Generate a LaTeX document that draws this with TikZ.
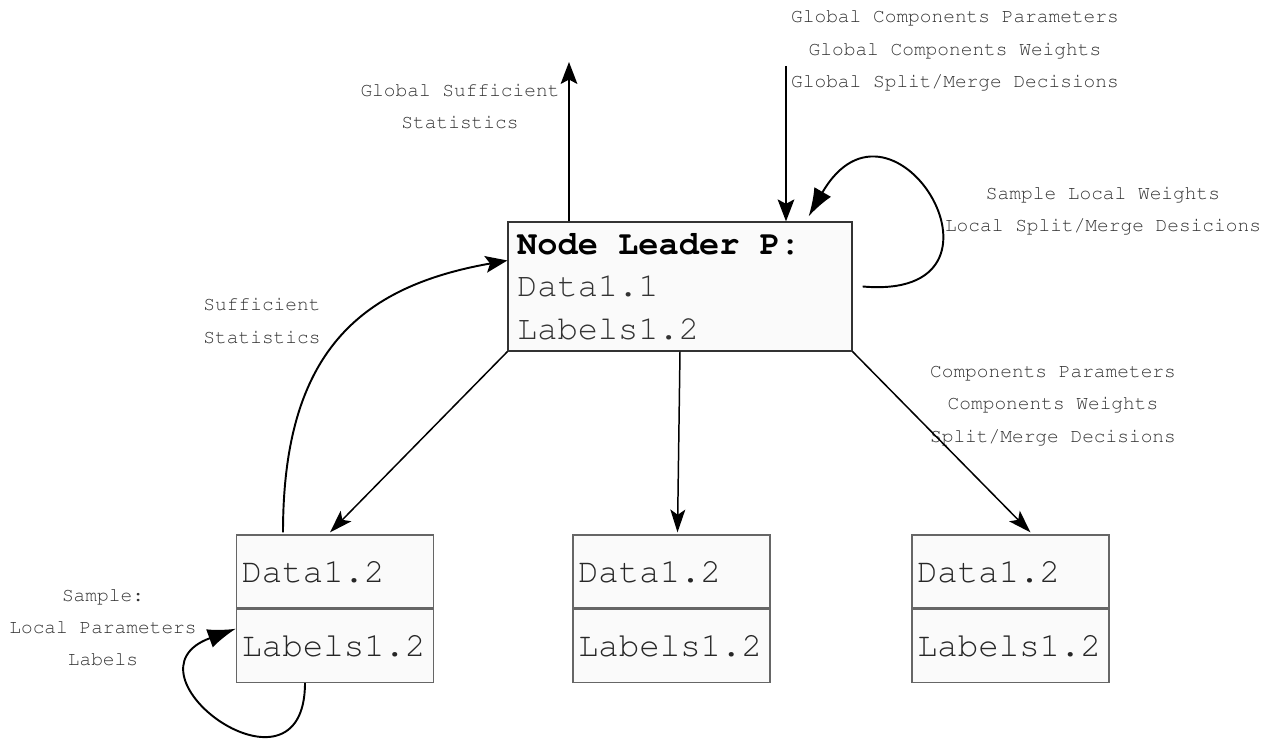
\documentclass[tikz,border=0pt]{standalone}
\usepackage[T1]{fontenc}
\usepackage{courier}
\usetikzlibrary{arrows.meta,calc,positioning}

\begin{document}
\begin{tikzpicture}[x=0.02cm, y=0.02cm]
\useasboundingbox (0,0) rectangle (1275,743);
% node style definition
\tikzstyle{leader} = [
	draw=black!80, fill=black!2, line width=0.7pt,
	minimum width=6.88cm, minimum height=2.58cm, inner xsep=0.18cm,
	text width=6.52cm, align=left, text=black!80,
	font=\ttfamily\fontsize{19.2}{24.4}\selectfont ];
\tikzstyle{part} = [
	draw=black!60, fill=black!2, line width=0.7pt,
	minimum width=3.94cm, minimum height=1.46cm, inner xsep=0.1cm,
	text width=3.74cm, align=left, text=black!85,
	font=\ttfamily\fontsize{19.4}{24}\selectfont ];
\tikzstyle{note} = [align=center, text=black!80, inner sep=0pt,
	font=\ttfamily\fontsize{11.1}{18.4}\selectfont];
% connector styles
\tikzstyle{flow} = [-{Stealth[length=12.5pt,width=9.5pt,inset=2.5pt]}, line width=1.1pt];
\tikzstyle{thinflow} = [-{Stealth[length=13pt,width=8.5pt,inset=3pt]}, line width=0.85pt];
\tikzstyle{loopflow} = [-{Latex[length=16pt,width=11pt]}, line width=1.1pt];

% leader and worker boxes
\node[leader] (ldr) at (680,456.5) {{\bfseries\color{black}Node\hspace*{0.6em}Leader\hspace*{0.6em}P:}\\Data1.1\\Labels1.2};

\node[part] (dataA) at (335,171.5) {Data1.2};
\node[part, below=0pt of dataA] (lblA) {Labels1.2};
\node[part] (dataB) at (671.5,171.5) {Data1.2};
\node[part, below=0pt of dataB] (lblB) {Labels1.2};
\node[part] (dataC) at (1010.5,171.5) {Data1.2};
\node[part, below=0pt of dataC] (lblC) {Labels1.2};

% labels
\node[note] (gss) at (460,636.5) {Global Sufficient\\Statistics};
\node[note] (gcomp) at (955,692.5) {Global Components Parameters\\Global Components Weights\\Global Split/Merge Decisions};
\node[note] (sloc) at (1103,532) {Sample Local Weights\\Local Split/Merge Desicions};
\node[note] (suff) at (262,422) {Sufficient\\Statistics};
\node[note] (comp) at (1053,337.5) {Components Parameters\\Components Weights\\Split/Merge Decisions};
\node[note] (samp) at (103,115.5) {Sample:\\Local Parameters\\Labels};

% connectors
\coordinate (gssTop) at (569,681);
\coordinate (gIn) at (786,677);
\draw[flow] (gssTop |- ldr.north) -- (gssTop);
\draw[flow] (gIn) -- (gIn |- ldr.north);
\draw[loopflow] ($(ldr.east)+(10,0)$) to[out=-5, in=60, out distance=3.4cm, in distance=3.4cm] ($(ldr.north east)+(-44,5)$);

\draw[thinflow] (ldr.south west) -- ($(dataA.north)+(-5,2)$);
\draw[thinflow] (ldr.south) -- ($(dataB.north)+(6,2)$);
\draw[thinflow] (ldr.south east) -- ($(dataC.north)+(20,2)$);

\draw[flow] ($(dataA.north)+(-52,2)$) to[out=90, in=190, out distance=3.6cm, in distance=3cm] ($(ldr.west)+(0,26)$);
\draw[loopflow] ($(lblA.south)+(-30,0)$) to[out=-90, in=200, out distance=2.6cm, in distance=2.6cm] ($(lblA.west)+(0,17)$);

\end{tikzpicture}
\end{document}
